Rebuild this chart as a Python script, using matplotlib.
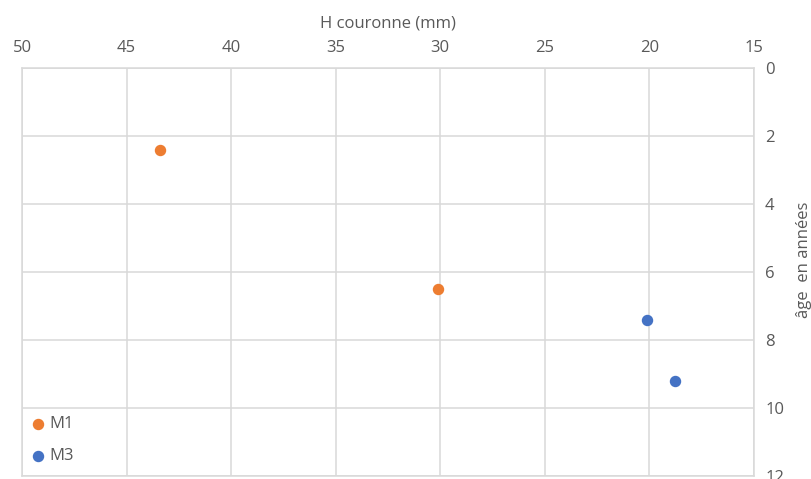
import matplotlib
matplotlib.use("Agg")
import matplotlib.pyplot as plt

# data
m1_h = [43.4, 30.1]
m1_age = [2.4, 6.5]
m3_h = [20.1, 18.8]
m3_age = [7.4, 9.2]

ORANGE = "#ED7D31"
BLUE = "#4472C4"
GREY = "#595959"
GRID = "#d9d9d9"

plt.rcParams.update({"font.family": ["Open Sans", "DejaVu Sans"],
                     "text.color": GREY, "xtick.color": GREY,
                     "ytick.color": GREY, "axes.labelcolor": GREY})

fig = plt.figure(figsize=(8.12, 4.79), dpi=100)
ax = fig.add_axes([22 / 812, 1 - 476 / 479, 732 / 812, 408 / 479])

ax.scatter(m1_h, m1_age, s=52, color=ORANGE, label="M1", zorder=3)
ax.scatter(m3_h, m3_age, s=52, color=BLUE, label="M3", zorder=3)

ax.set_xlim(50, 15)
ax.set_ylim(12, 0)
ax.set_xticks(range(50, 14, -5))
ax.set_yticks(range(0, 13, 2))
ax.xaxis.tick_top()
ax.xaxis.set_label_position("top")
ax.yaxis.tick_right()
ax.yaxis.set_label_position("right")
ax.tick_params(axis="x", length=0, pad=9, labelsize=12)
ax.tick_params(axis="y", length=0, pad=8, labelsize=12)
ax.grid(True, color=GRID, lw=1.1)
ax.set_axisbelow(True)
for s in ax.spines.values():
    s.set_color(GRID)
    s.set_linewidth(1.1)

ax.set_xlabel("H couronne (mm)", fontsize=12, labelpad=9)
ax.set_ylabel("âge  en années", fontsize=12, rotation=90)
ax.yaxis.set_label_coords(1.058, 0.53)

ax.legend(loc="upper left", bbox_to_anchor=(31 / 812, 1 - 416 / 479),
          bbox_transform=fig.transFigure, frameon=False, fontsize=12,
          handlelength=0.8, handletextpad=0.3, labelspacing=0.97,
          borderpad=0, borderaxespad=0, labelcolor=GREY)

fig.savefig("out.png", dpi=100, facecolor="white")
